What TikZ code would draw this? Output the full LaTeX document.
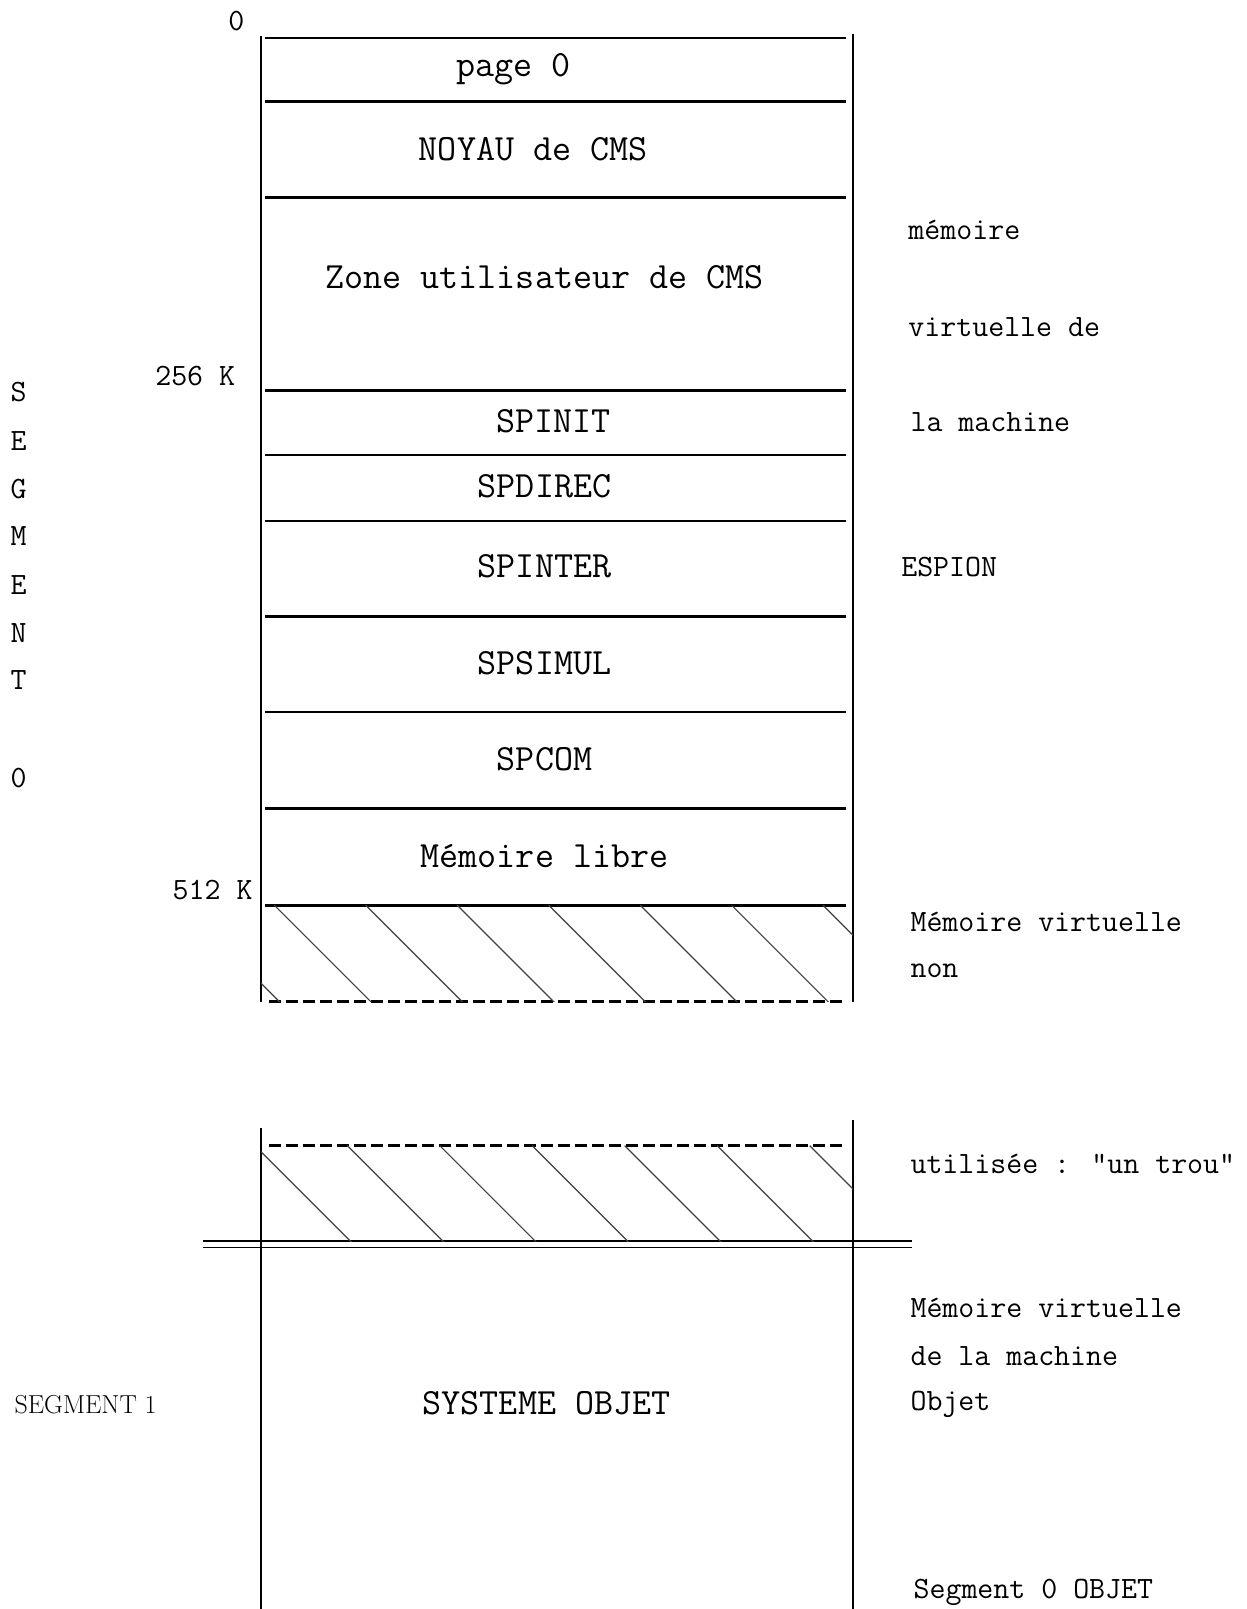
\documentclass[tikz,border=0pt]{standalone}
\begin{document}
\begin{tikzpicture}[x=1.0275pt,y=-1.0275pt,
  tt/.style={font=\fontsize{37}{42}\selectfont\ttfamily, inner sep=0pt},
  ts/.style={font=\fontsize{31}{36}\selectfont\ttfamily, inner sep=0pt},
  lab/.style={ts, anchor=west},
  rm/.style={font=\fontsize{26}{30}\selectfont\rmfamily, inner sep=0pt, anchor=west},
  hline/.style={line width=2.6pt},
  vline/.style={line width=1.8pt},
  dline/.style={line width=2.6pt, dash pattern=on 12pt off 5pt},
  hatch/.style={line width=1.2pt, black!75}]
\useasboundingbox (0,0) rectangle (1213.6,1566);
% verticals
\draw[vline] (254,35) -- (254,975);
\draw[vline] (830,33) -- (830,975);
\draw[vline] (254,1098) -- (254,1566);
\draw[vline] (830,1090) -- (830,1566);
% horizontals
\foreach \yy in {37,99,192,380,443,507,600,693,787,881}
  \draw[hline] (258,\yy) -- (823,\yy);
\draw[dline] (262,975) -- (823,975);
\draw[dline] (262,1115) -- (823,1115);
\draw[line width=1.6pt] (198,1208) -- (888,1208);
\draw[line width=1.6pt] (198,1214) -- (888,1214);
% hatching
\begin{scope}
  \clip (254,881) rectangle (830,975);
  \foreach \k in {-1,...,7} \draw[hatch] ({267+89*\k},881) -- ++(96,96);
\end{scope}
\begin{scope}
  \clip (254,1115) rectangle (830,1208);
  \foreach \k in {0,...,6} \draw[hatch] ({248+90*\k},1115) -- ++(95,95);
\end{scope}
% labels in boxes
\node[ts] (z0) at (230,20) {0};
\node[tt] (p0) at (500,67) {page 0};
\node[tt] (noy) at (519,145) {NOYAU de CMS};
\node[tt] (zone) at (530,270) {Zone utilisateur de CMS};
\node[ts, anchor=east] (k256) at (229,366) {256 K};
\node[tt] (spinit) at (539,410) {SPINIT};
\node[tt] (spdirec) at (530,473) {SPDIREC};
\node[tt] (spinter) at (530,551) {SPINTER};
\node[tt] (spsimul) at (530,645) {SPSIMUL};
\node[tt] (spcom) at (530,739) {SPCOM};
\node[tt] (libre) at (530,833) {Mémoire libre};
\node[ts, anchor=east] (k512) at (246,866) {512 K};
\node[tt] (sysobj) at (532,1366) {SYSTEME OBJET};
% right column
\node[lab] (r1) at (884,224) {mémoire};
\node[lab] (r2) at (884,318) {virtuelle de};
\node[lab] (r3) at (886,411) {la machine};
\node[lab] (r4) at (877,552) {ESPION};
\node[lab] (r5) at (886,897) {Mémoire virtuelle};
\node[lab] (r6) at (886,945) {non};
\node[lab] (r7) at (886,1133) {utilisée : "un trou"};
\node[lab] (r8) at (886,1273) {Mémoire virtuelle};
\node[lab] (r9) at (886,1320) {de la machine};
\node[lab] (r10) at (886,1367) {Objet};
\node[lab] (r11) at (889,1550) {Segment 0 OBJET};
% left vertical SEGMENT 0
\node[ts] (s1) at (18,382) {S};
\node[ts] (s2) at (18,429) {E};
\node[ts] (s3) at (18,476) {G};
\node[ts] (s4) at (18,522) {M};
\node[ts] (s5) at (18,569) {E};
\node[ts] (s6) at (18,616) {N};
\node[ts] (s7) at (18,662) {T};
\node[ts] (s8) at (18,757) {0};
\node[rm] (seg1) at (14,1367) {SEGMENT 1};
\end{tikzpicture}
\end{document}
